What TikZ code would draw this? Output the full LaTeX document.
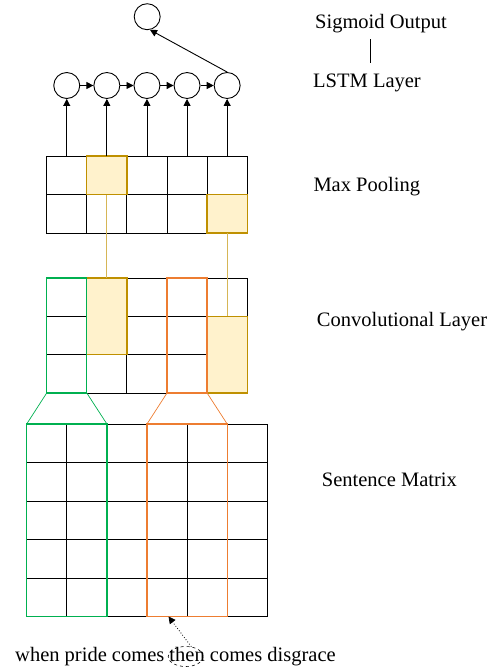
\documentclass[tikz,border=0pt]{standalone}
\usepackage{fontspec}
\setmainfont{Liberation Serif}
\usetikzlibrary{arrows.meta,shapes.geometric}
\definecolor{goldline}{HTML}{BF9000}
\definecolor{goldlight}{HTML}{D6B656}
\definecolor{yellowfill}{HTML}{FFF2CC}
\definecolor{greenline}{HTML}{00B050}
\definecolor{orangeline}{HTML}{ED7D31}
\begin{document}
\begin{tikzpicture}[x=1pt,y=-1pt,
  cellline/.style={draw=black,line width=0.9pt},
  hlcell/.style={fill=yellowfill,draw=goldline,line width=1.3pt},
  greenbox/.style={draw=greenline,line width=1.3pt},
  orangebox/.style={draw=orangeline,line width=1.3pt},
  lstm/.style={circle,draw=black,line width=0.9pt,minimum size=26pt,inner sep=0pt},
  arr/.style={-{Triangle[length=7pt,width=7pt]},line width=0.9pt},
  lbl/.style={font=\fontsize{20.5}{24}\selectfont,anchor=base west,inner sep=0pt},
  txtfont/.style={font=\fontsize{20.5}{24}\selectfont}]
\useasboundingbox (0,0) rectangle (495,667);

% ---------- Max pooling grid ----------
\foreach \i in {0,...,4}{
  \foreach \j in {0,1}{
    \draw[cellline] ({46.7+\i*40.1},{156+\j*38.5}) rectangle ++(40.1,38.5);
  }
}
\draw[hlcell] (86.8,156) rectangle (126.9,194.5);
\draw[hlcell] (207.1,194.5) rectangle (247.2,233);

% ---------- Convolutional grid ----------
\foreach \i in {0,...,4}{
  \foreach \j in {0,1,2}{
    \draw[cellline] ({46.7+\i*40.1},{278+\j*38.33}) rectangle ++(40.1,38.33);
  }
}
\draw[hlcell] (86.8,278) rectangle (126.9,354.6);
\draw[hlcell] (207.1,316.3) rectangle (247.2,393);
\draw[greenbox] (46.7,278) rectangle (86.8,393);
\draw[orangebox] (167.0,278) rectangle (207.1,393);

% ---------- Sentence matrix ----------
\foreach \i in {0,...,5}{
  \foreach \j in {0,...,4}{
    \draw[cellline] ({26.7+\i*40.1},{424+\j*38.5}) rectangle ++(40.1,38.5);
  }
}
\draw[greenbox] (26.7,424) rectangle (106.9,616.5);
\draw[orangebox] (147.0,424) rectangle (227.2,616.5);

% trapezoid connectors
\coordinate (gsl) at (26.7,424);  \coordinate (gcl) at (46.7,393);
\coordinate (gsr) at (106.9,424); \coordinate (gcr) at (86.8,393);
\coordinate (osl) at (147.0,424); \coordinate (ocl) at (167.0,393);
\coordinate (osr) at (227.2,424); \coordinate (ocr) at (207.1,393);
\draw[greenline,line width=0.7pt] (gsl) -- (gcl);
\draw[greenline,line width=0.7pt] (gsr) -- (gcr);
\draw[orangeline,line width=0.7pt] (osl) -- (ocl);
\draw[orangeline,line width=0.7pt] (osr) -- (ocr);

% gold connectors max pool -> conv
\coordinate (mpA) at (106.85,194.5); \coordinate (cvA) at (106.85,278);
\coordinate (mpB) at (227.15,233);   \coordinate (cvB) at (227.15,316.3);
\draw[goldlight,line width=1.1pt] (mpA) -- (cvA);
\draw[goldlight,line width=1.1pt] (mpB) -- (cvB);

% ---------- LSTM layer ----------
\foreach \k in {1,...,5}{
  \node[lstm] (l\k) at ({66.75+(\k-1)*40.1},85.5) {};
  \coordinate (m\k) at ({66.75+(\k-1)*40.1},156);
  \draw[arr] (m\k) -- (l\k.south);
}
\draw[arr] (l1) -- (l2);
\draw[arr] (l2) -- (l3);
\draw[arr] (l3) -- (l4);
\draw[arr] (l4) -- (l5);
\node[lstm] (out) at (147.2,16.7) {};
\draw[arr] (l5.north) -- (out.-78);

% ---------- Labels ----------
\node[lbl] (sig) at (315,28.3) {Sigmoid Output};
\node[lbl] (lstmlbl) at (313,87) {LSTM Layer};
\coordinate (vt) at (370,39);
\coordinate (vb) at (370,63);
\draw[line width=0.9pt] (vt) -- (vb);
\node[lbl] (mplbl) at (313.3,191.7) {Max Pooling};
\node[lbl] (cvlbl) at (316.7,326.7) {Convolutional Layer};
\node[lbl] (smlbl) at (321.7,486.7) {Sentence Matrix};

% ---------- Sentence ----------
\node[lbl] (sent) at (15,661.5) {when pride comes then comes disgrace};
\node[ellipse,draw=black,dashed,line width=0.6pt,minimum width=35pt,minimum height=20pt,inner sep=0pt] (then) at (185.7,656.5) {};
\coordinate (smbot) at (168.5,616.5);
\draw[dotted,line width=0.8pt,-{Triangle[length=7pt,width=7pt]}] (then.60) -- (smbot);
\end{tikzpicture}
\end{document}
